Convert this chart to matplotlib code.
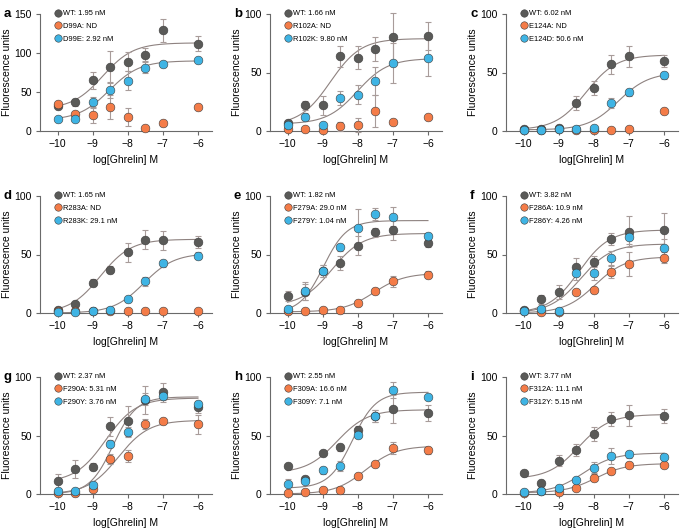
import numpy as np
import matplotlib
matplotlib.use('Agg')
from matplotlib import pyplot as plt

plt.rcParams['font.family'] = ['Liberation Sans', 'DejaVu Sans']

# log[Ghrelin] M
conc = [-10, -9.5, -9, -8.5, -8, -7.5, -7, -6]

letters = ['a', 'b', 'c', 'd', 'e', 'f', 'g', 'h', 'i']

# legend labels: WT, alanine mutant, conservative mutant
labels_a = ['WT: 1.95 nM', 'D99A: ND', 'D99E: 2.92 nM']
labels_b = ['WT: 1.66 nM', 'R102A: ND', 'R102K: 9.80 nM']
labels_c = ['WT: 6.02 nM', 'E124A: ND', 'E124D: 50.6 nM']
labels_d = ['WT: 1.65 nM', 'R283A: ND', 'R283K: 29.1 nM']
labels_e = ['WT: 1.82 nM', 'F279A: 29.0 nM', 'F279Y: 1.04 nM']
labels_f = ['WT: 3.82 nM', 'F286A: 10.9 nM', 'F286Y: 4.26 nM']
labels_g = ['WT: 2.37 nM', 'F290A: 5.31 nM', 'F290Y: 3.76 nM']
labels_h = ['WT: 2.55 nM', 'F309A: 16.6 nM', 'F309Y: 7.1 nM']
labels_i = ['WT: 3.77 nM', 'F312A: 11.1 nM', 'F312Y: 5.15 nM']

# means (WT, Ala, conservative) and SEM
wt_a = [31.5, 36.6, 65, 82, 89, 98, 129, 112]
wt_a_err = [2, 5, 11, 21, 12, 8, 15, 10]
ala_a = [34, 21.5, 20, 31, 18, 4, 10, 30.6]
ala_a_err = [2, 2, 10, 15, 12, 1, 3, 1]
con_a = [16, 16, 37, 52.5, 64.6, 81, 86, 91]
con_a_err = [1, 1, 6, 10, 12, 7, 4, 3]

wt_b = [6.6, 22, 22, 64, 62.6, 70, 80.7, 81.3]
wt_b_err = [3, 4, 8, 9, 10, 10, 20, 12]
ala_b = [1.5, 1.5, 1.2, 4, 5, 17, 7.5, 12]
ala_b_err = [1, 1, 1, 4, 6, 14, 1, 1]
con_b = [5, 12, 5, 28, 31, 43, 58, 62.6]
con_b_err = [1, 3, 1, 6, 8, 12, 17, 16]

wt_c = [1.7, 2, 2.8, 24, 37, 57, 64, 60]
wt_c_err = [0.5, 0.5, 1, 6, 6, 8, 9, 5]
ala_c = [1, 1, 1.5, 1, 1, 1, 2, 17]
ala_c_err = [0.5, 0.5, 0.5, 0.5, 0.5, 0.5, 0.5, 1]
con_c = [1, 1, 1.5, 2, 2.3, 24, 33, 47.6]
con_c_err = [0.5, 0.5, 0.5, 1, 1, 4, 3, 3]

wt_d = [2.3, 7.4, 26, 37, 52, 62.7, 62, 60.7]
wt_d_err = [1, 1, 3, 3, 8, 8, 8, 5]
ala_d = [1.4, 1.4, 1.4, 1.4, 1.4, 1.4, 1.4, 1.4]
ala_d_err = [0.5, 0.5, 0.5, 0.5, 0.5, 0.5, 0.5, 0.5]
con_d = [1, 1, 1.4, 2.3, 11.7, 27, 42.5, 49]
con_d_err = [0.5, 0.5, 0.5, 1, 2, 4, 3, 3]

wt_e = [14.4, 17.8, 35.7, 42.5, 57.5, 69, 71, 60]
wt_e_err = [4, 7, 5, 6, 8, 4, 9, 4]
ala_e = [1.4, 1.4, 2.8, 2.5, 8.5, 19, 27, 32.6]
ala_e_err = [0.5, 0.5, 1, 1, 2, 2, 5, 3]
con_e = [3, 18.7, 36, 56, 72.5, 84.4, 82.4, 65.7]
con_e_err = [1, 8, 5, 3, 16, 5, 8, 3]

wt_f = [2.9, 11.8, 18, 39.7, 44, 63, 69.5, 71.3]
wt_f_err = [1, 4, 6, 7, 5, 5, 13, 14]
ala_f = [1.7, 1.1, 0.6, 18, 19.5, 34.8, 42, 47.4]
ala_f_err = [0.5, 0.5, 0.5, 2, 2, 5, 10, 5]
con_f = [2, 3.4, 1.4, 34.5, 34, 47.4, 65, 55.5]
con_f_err = [0.5, 1, 0.5, 6, 6, 6, 6, 8]

wt_g = [11, 21.4, 23.4, 57.7, 62.3, 80, 87, 74.3]
wt_g_err = [6, 8, 3, 8, 13, 12, 8, 5]
ala_g = [1, 1, 4, 30, 32.3, 59.7, 62, 59.7]
ala_g_err = [0.5, 0.5, 1, 4, 5, 4, 2, 8]
con_g = [2.6, 2.3, 7.7, 42.9, 52.9, 81, 83.4, 76.9]
con_g_err = [1, 1, 2, 3, 4, 5, 3, 3]

wt_h = [24, 13, 35.4, 40, 55, 66.5, 72.5, 69.2]
wt_h_err = [1, 2, 1, 3, 3, 5, 12, 7]
ala_h = [1, 1.4, 3.3, 3.6, 15.6, 25.8, 39.5, 37.4]
ala_h_err = [0.5, 0.5, 1, 1, 1, 1, 5, 3]
con_h = [8.2, 11.5, 20.3, 24, 50.5, 66.8, 89, 83]
con_h_err = [5, 2, 3, 4, 3, 5, 7, 2]

wt_i = [18.3, 9, 28.6, 37.7, 51.4, 64, 67.4, 66.9]
wt_i_err = [1, 2, 5, 5, 6, 6, 9, 6]
ala_i = [1, 2.3, 2, 5.4, 14, 19.4, 25, 24.6]
ala_i_err = [0.5, 0.5, 0.5, 1, 3, 2, 2, 1]
con_i = [1.7, 2.3, 5, 12, 22.6, 32.6, 34, 32]
con_i_err = [0.5, 0.5, 3, 2, 5, 7, 3, 2]

# fitted curves: (bottom, top, logEC50, hill); None = not fitted (ND)
fit_a = [(28, 113, -8.71, 1), None, (14, 90, -8.53, 1)]
fit_b = [(5, 79, -8.78, 1), None, (6, 62, -8.01, 1)]
fit_c = [(1, 65, -8.22, 1), None, (1, 50, -7.30, 1)]
fit_d = [(0, 63, -8.78, 1), None, (0, 51, -7.54, 1)]
fit_e = [(6, 68, -8.74, 1), (1, 34, -7.54, 1), (0, 79, -8.98, 1.3)]
fit_f = [(0, 71, -8.42, 1), (0, 48, -7.96, 1), (0, 59, -8.37, 1)]
fit_g = [(10, 82, -8.63, 1), (0, 63, -8.27, 1), (0, 83, -8.42, 1.3)]
fit_h = [(18, 72, -8.59, 1), (0, 41, -7.78, 1), (5, 87, -8.15, 1.3)]
fit_i = [(13, 68, -8.42, 1), (1, 26, -7.95, 1), (1, 35, -8.29, 1)]

ymax = [150, 100, 100, 100, 100, 100, 100, 100, 100]

panels = [
    (labels_a, [wt_a, ala_a, con_a], [wt_a_err, ala_a_err, con_a_err], fit_a),
    (labels_b, [wt_b, ala_b, con_b], [wt_b_err, ala_b_err, con_b_err], fit_b),
    (labels_c, [wt_c, ala_c, con_c], [wt_c_err, ala_c_err, con_c_err], fit_c),
    (labels_d, [wt_d, ala_d, con_d], [wt_d_err, ala_d_err, con_d_err], fit_d),
    (labels_e, [wt_e, ala_e, con_e], [wt_e_err, ala_e_err, con_e_err], fit_e),
    (labels_f, [wt_f, ala_f, con_f], [wt_f_err, ala_f_err, con_f_err], fit_f),
    (labels_g, [wt_g, ala_g, con_g], [wt_g_err, ala_g_err, con_g_err], fit_g),
    (labels_h, [wt_h, ala_h, con_h], [wt_h_err, ala_h_err, con_h_err], fit_h),
    (labels_i, [wt_i, ala_i, con_i], [wt_i_err, ala_i_err, con_i_err], fit_i),
]

colors = ['#5a5a58', '#f47c48', '#3fb4e4']
curve_col = '#8e8280'
err_col = '#a89c9a'
axis_col = '#6a6a6a'

W, H = 685, 528
fig = plt.figure(figsize=(W / 100, H / 100), dpi=100)

col_left = [40, 270, 506]
row_top = [14, 196, 377]
row_bot = [131, 313, 494]
ax_w = 172

xs = np.linspace(-10, -6, 300)

for k, (labels, means, errs, fits) in enumerate(panels):
    r, c = divmod(k, 3)
    ax = fig.add_axes([col_left[c] / W, 1 - row_bot[r] / H,
                       ax_w / W, (row_bot[r] - row_top[r]) / H])
    # curves first
    for fit in fits:
        if fit is None:
            continue
        b, t, ec, h = fit
        ax.plot(xs, b + (t - b) / (1 + 10 ** ((ec - xs) * h)),
                color=curve_col, lw=0.8, zorder=2)
    for s in range(3):
        ax.errorbar(conc, means[s], yerr=errs[s], fmt='none', ecolor=err_col,
                    elinewidth=0.8, capsize=2, capthick=0.8, zorder=3,
                    clip_on=False)
    for s in range(3):
        ax.plot(conc, means[s], 'o', ms=6.3, mfc=colors[s], mec='#3c3c3c',
                mew=0.4, ls='none', label=labels[s], zorder=4 + s,
                clip_on=False)
    ax.set_xlim(-10.5, -5.6)
    ax.set_ylim(0, ymax[k])
    ax.set_xticks([-10, -9, -8, -7, -6])
    ax.set_xticklabels(['\u221210', '\u22129', '\u22128', '\u22127', '\u22126'])
    ax.set_yticks(np.arange(0, ymax[k] + 1, 50))
    for sp in ['top', 'right']:
        ax.spines[sp].set_visible(False)
    for sp in ['left', 'bottom']:
        ax.spines[sp].set_color(axis_col)
        ax.spines[sp].set_linewidth(0.8)
    ax.tick_params(direction='out', length=3, width=0.8, color=axis_col,
                   labelsize=7.5, pad=3)
    ax.set_xlabel('log[Ghrelin] M', fontsize=7.5, labelpad=4)
    ax.set_ylabel('Fluorescence units', fontsize=7.5, labelpad=2)
    leg = ax.legend(loc='upper left', bbox_to_anchor=(0.06, 1.06), frameon=False,
                    fontsize=5.4, handletextpad=0.15, labelspacing=0.72,
                    markerscale=0.85, borderaxespad=0, handlelength=1.2)
    fig.text((col_left[c] - 36) / W, 1 - (row_top[r] - 6) / H, letters[k],
             fontsize=9.5, fontweight='bold', va='top', ha='left')

fig.savefig('out.png', dpi=100)
